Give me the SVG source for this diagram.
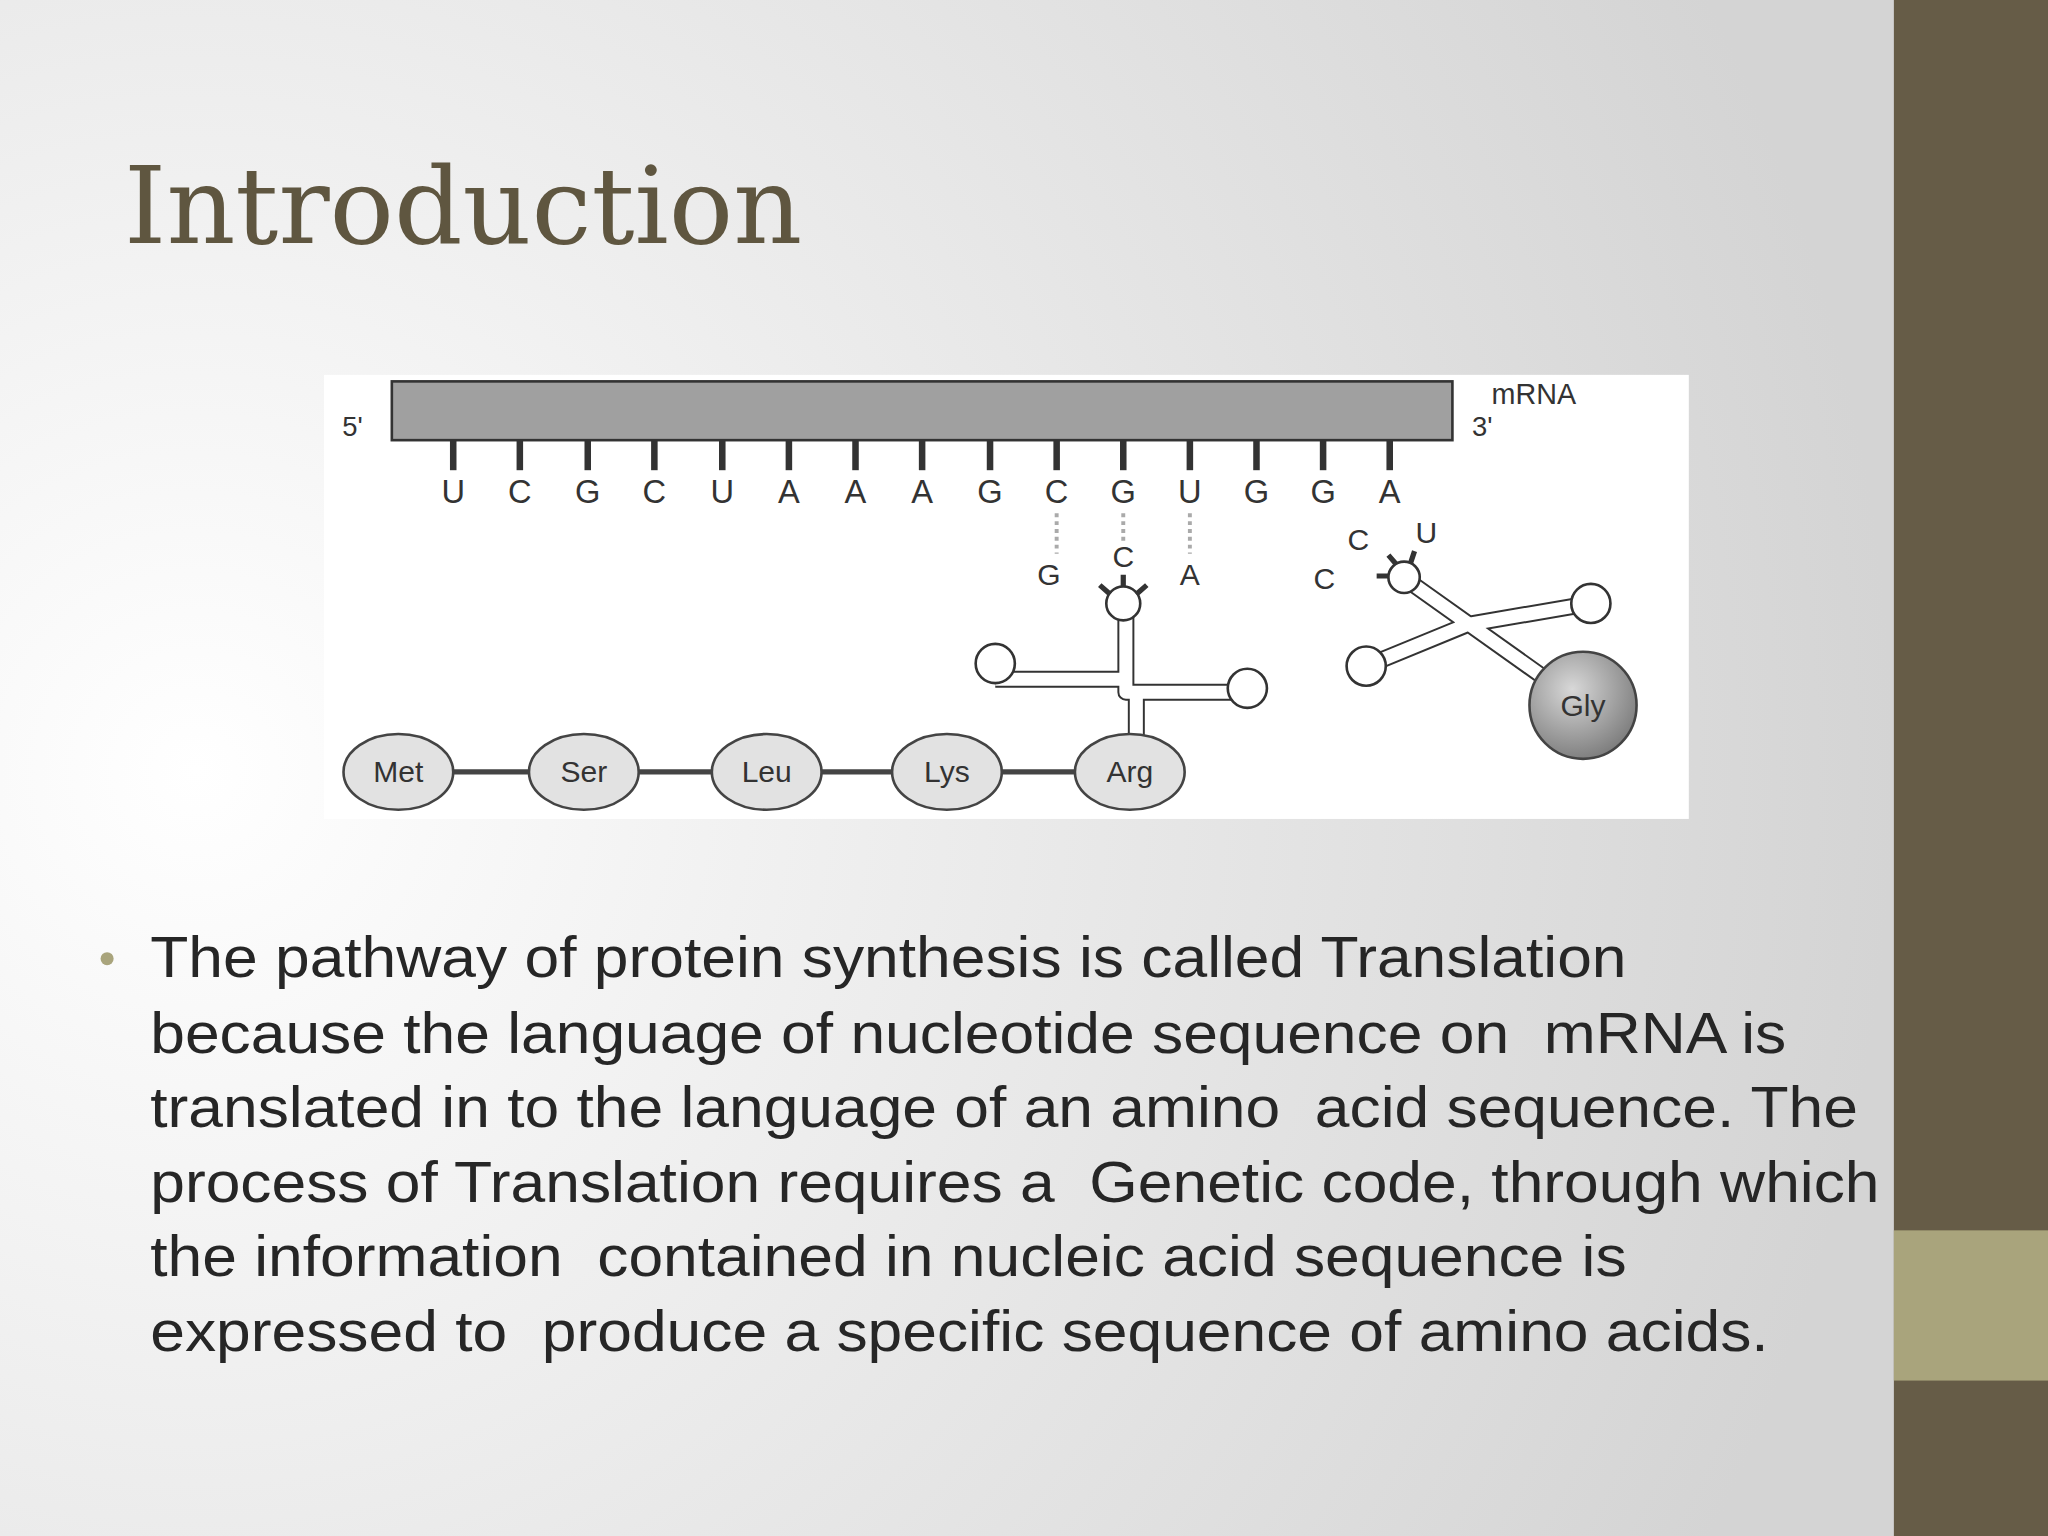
<svg xmlns="http://www.w3.org/2000/svg" width="2048" height="1536" viewBox="0 0 2048 1536">
<defs>
<radialGradient id="bg" cx="150" cy="590" r="1300" gradientUnits="userSpaceOnUse"><stop offset="0" stop-color="#ffffff"/><stop offset="1" stop-color="#d4d4d4"/></radialGradient>
<radialGradient id="gly" cx="0.4" cy="0.35" r="0.7"><stop offset="0" stop-color="#d8d8d8"/><stop offset="1" stop-color="#7a7a7a"/></radialGradient>
<style>
.l{font-family:"Liberation Sans",Arial,sans-serif;fill:#333}
.aa{fill:#e2e2e2;stroke:#444;stroke-width:2}
.tk{stroke:#333;stroke-width:5}
.dot{stroke:#aaa;stroke-width:3;stroke-dasharray:3 3}
.o{fill:none;stroke:#333;stroke-width:13;stroke-linejoin:round}
.i{fill:none;stroke:#fff;stroke-width:10;stroke-linejoin:round}
.lp{fill:#fff;stroke:#333;stroke-width:2}
</style>
</defs>
<g transform="scale(1.30612)">
<rect width="1568" height="1176" fill="url(#bg)"/>
<rect x="1450" width="118" height="1176" fill="#665c47"/>
<rect x="1450" y="942" width="118" height="115" fill="#a9a47c"/>
<text x="95" y="186" font-family="'DejaVu Serif','Liberation Serif',serif" font-size="82" fill="#5f5640">Introduction</text>
<g id="figure">
<rect x="248" y="287" width="1045" height="340" fill="#fff"/>
<rect x="300" y="292" width="812" height="45" fill="#a0a0a0" stroke="#333" stroke-width="2"/>
<text class="l" x="262" y="334" font-size="21">5'</text>
<text class="l" x="1127" y="334" font-size="21">3'</text>
<text class="l" x="1142" y="309" font-size="22">mRNA</text>
<g id="ticks">
<line class="tk" x1="347" y1="337" x2="347" y2="360"/><line class="tk" x1="398" y1="337" x2="398" y2="360"/><line class="tk" x1="450" y1="337" x2="450" y2="360"/><line class="tk" x1="501" y1="337" x2="501" y2="360"/><line class="tk" x1="553" y1="337" x2="553" y2="360"/><line class="tk" x1="604" y1="337" x2="604" y2="360"/><line class="tk" x1="655" y1="337" x2="655" y2="360"/><line class="tk" x1="706" y1="337" x2="706" y2="360"/><line class="tk" x1="758" y1="337" x2="758" y2="360"/><line class="tk" x1="809" y1="337" x2="809" y2="360"/><line class="tk" x1="860" y1="337" x2="860" y2="360"/><line class="tk" x1="911" y1="337" x2="911" y2="360"/><line class="tk" x1="962" y1="337" x2="962" y2="360"/><line class="tk" x1="1013" y1="337" x2="1013" y2="360"/><line class="tk" x1="1064" y1="337" x2="1064" y2="360"/>
</g>
<g class="l" font-size="25" text-anchor="middle">
<text x="347" y="385">U</text><text x="398" y="385">C</text><text x="450" y="385">G</text><text x="501" y="385">C</text><text x="553" y="385">U</text><text x="604" y="385">A</text><text x="655" y="385">A</text><text x="706" y="385">A</text><text x="758" y="385">G</text><text x="809" y="385">C</text><text x="860" y="385">G</text><text x="911" y="385">U</text><text x="962" y="385">G</text><text x="1013" y="385">G</text><text x="1064" y="385">A</text>
</g>
<g id="connectors">
<line class="dot" x1="809" y1="393" x2="809" y2="424"/><line class="dot" x1="860" y1="393" x2="860" y2="414"/><line class="dot" x1="911" y1="393" x2="911" y2="424"/>
<line x1="305" y1="591" x2="865" y2="591" stroke="#444" stroke-width="4"/>
</g>
<g id="trna1">
<path class="o" d="M862 462 V520 H762 M862 520 V530 H955 M870 530 V580"/>
<path class="i" d="M862 462 V520 H762 M862 520 V530 H955 M870 530 V580"/>
<circle class="lp" cx="860" cy="462" r="13"/>
<circle class="lp" cx="762" cy="508" r="15"/>
<circle class="lp" cx="955" cy="527" r="15"/>
<path d="M850 455 L842 448 M860 449 V440 M870 455 L878 448" stroke="#333" stroke-width="4"/>
<text class="l" x="803" y="448" font-size="23" text-anchor="middle">G</text>
<text class="l" x="860" y="434" font-size="23" text-anchor="middle">C</text>
<text class="l" x="911" y="448" font-size="23" text-anchor="middle">A</text>
</g>
<g id="trna2">
<path class="o" d="M1077 444 L1212 540 M1124 478 L1218 462 M1124 478 L1046 510"/>
<path class="i" d="M1077 444 L1212 540 M1124 478 L1218 462 M1124 478 L1046 510"/>
<circle class="lp" cx="1075" cy="442" r="12"/>
<circle class="lp" cx="1218" cy="462" r="15"/>
<circle class="lp" cx="1046" cy="510" r="15"/>
<path d="M1063 441 H1054 M1069 432 L1063 425 M1080 431 L1083 422" stroke="#333" stroke-width="4"/>
<text class="l" x="1040" y="421" font-size="23" text-anchor="middle">C</text>
<text class="l" x="1092" y="416" font-size="23" text-anchor="middle">U</text>
<text class="l" x="1014" y="451" font-size="23" text-anchor="middle">C</text>
<circle cx="1212" cy="540" r="41" fill="url(#gly)" stroke="#444" stroke-width="2"/>
<text class="l" x="1212" y="548" font-size="23" text-anchor="middle">Gly</text>
</g>
<g id="aminoacids" font-size="23">
<ellipse class="aa" cx="305" cy="591" rx="42" ry="29"/><text class="l" x="305" y="599" text-anchor="middle">Met</text>
<ellipse class="aa" cx="447" cy="591" rx="42" ry="29"/><text class="l" x="447" y="599" text-anchor="middle">Ser</text>
<ellipse class="aa" cx="587" cy="591" rx="42" ry="29"/><text class="l" x="587" y="599" text-anchor="middle">Leu</text>
<ellipse class="aa" cx="725" cy="591" rx="42" ry="29"/><text class="l" x="725" y="599" text-anchor="middle">Lys</text>
<ellipse class="aa" cx="865" cy="591" rx="42" ry="29"/><text class="l" x="865" y="599" text-anchor="middle">Arg</text>
</g>
</g>
<circle cx="82" cy="734" r="5" fill="#a9a47c"/>
<g font-family="'Liberation Sans',Arial,sans-serif" font-size="44" fill="#262626" transform="translate(115,0) scale(1.085,1)">
<text x="0" y="748">The pathway of protein synthesis is called Translation</text>
<text x="0" y="806" xml:space="preserve">because the language of nucleotide sequence on  mRNA is</text>
<text x="0" y="863" xml:space="preserve">translated in to the language of an amino  acid sequence. The</text>
<text x="0" y="920" xml:space="preserve">process of Translation requires a  Genetic code, through which</text>
<text x="0" y="977" xml:space="preserve">the information  contained in nucleic acid sequence is</text>
<text x="0" y="1034" xml:space="preserve">expressed to  produce a specific sequence of amino acids.</text>
</g>
</g>
</svg>
